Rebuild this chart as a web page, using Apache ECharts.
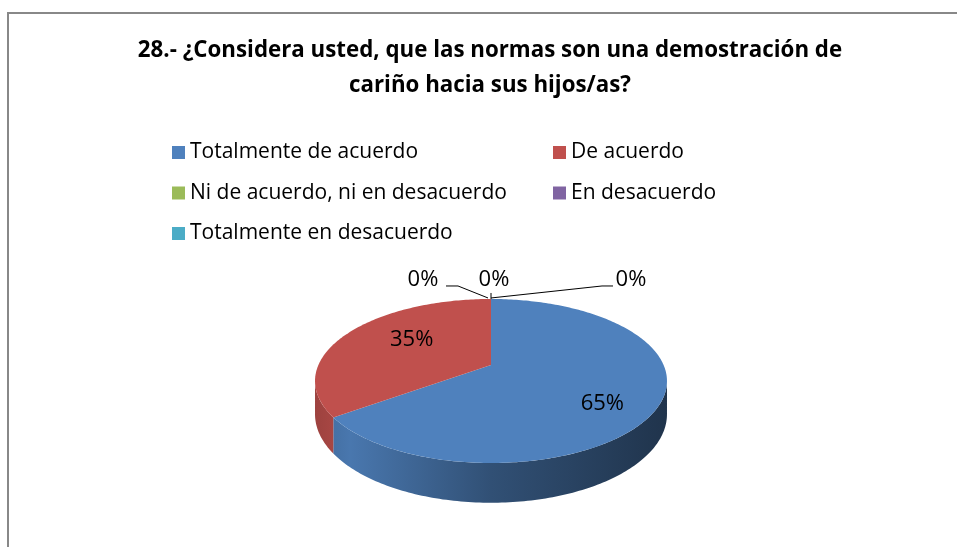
<!DOCTYPE html>
<html>
<head>
<meta charset="utf-8">
<script src="https://cdn.jsdelivr.net/npm/echarts@6/dist/echarts.min.js"></script>
<style>
    html, body { margin: 0; padding: 0; background: #fff; }
    #chart { width: 957px; height: 547px; }
</style>
</head>
<body>
<div id="chart"></div>
<script>
// data
const titleText = "28.- ¿Considera usted, que las normas son una demostración de\ncariño hacia sus hijos/as?";
const categories = [
    "Totalmente de acuerdo",
    "De acuerdo",
    "Ni de acuerdo, ni en desacuerdo",
    "En desacuerdo",
    "Totalmente en desacuerdo",
];
const values = [65, 35, 0, 0, 0];
const colors = ["#4F81BD", "#C0504D", "#9BBB59", "#8064A2", "#4BACC6"];

const FONT = "'Open Sans', Carlito, sans-serif";

// perspective pie geometry (top face centre, radii, tilt, wall height)
const geo = { x0: 491, y0: 365, a: 172.6, b: 78.9, k: 0.195, h: 32 };
// where the 0% labels go, relative to where their slice sits on the rim
const zeroLabels = [
    { text: [-68, -19], line: [[-3, -1], [-33, -13], [-45, -13]] },
    { text: [3, -19], line: [[0, 0], [0, -6]] },
    { text: [140, -19], line: [[0, -1], [111, -13], [122, -13]] },
];

const total = values.reduce((s, v) => s + v, 0);

function proj(phi, r) {
    const u = r * Math.sin(phi);
    const v = -r * Math.cos(phi);
    const d = 1 - geo.k * v;
    return [geo.x0 + (geo.a * u) / d, geo.y0 + (geo.b * v) / d];
}
function wallH(phi) {
    return geo.h / (1 + geo.k * Math.cos(phi));
}
function shade(hex, f) {
    const n = parseInt(hex.slice(1), 16);
    const c = [(n >> 16) & 255, (n >> 8) & 255, n & 255].map((x) => Math.round(x * f));
    return "rgb(" + c.join(",") + ")";
}
function arc(s, e) {
    const pts = [];
    const n = Math.max(2, Math.ceil((e - s) / (Math.PI / 180)));
    for (let j = 0; j <= n; j++) {
        const phi = s + ((e - s) * j) / n;
        pts.push(proj(phi, 1));
    }
    return pts;
}

function renderSlice(params, api) {
    const i = params.seriesIndex;
    const val = api.value(0);
    let before = 0;
    for (let j = 0; j < i; j++) before += values[j];
    const s = (before / total) * Math.PI * 2;
    const e = s + (val / total) * Math.PI * 2;
    const color = colors[i];
    const children = [];

    if (val > 0) {
        // outer wall, only the part facing us
        const vis0 = Math.acos(-geo.k);
        const vis1 = Math.PI * 2 - vis0;
        const a = Math.max(s, vis0);
        const b = Math.min(e, vis1);
        if (b > a) {
            const top = arc(a, b);
            const n = top.length - 1;
            const bottom = top.map((p, j) => [p[0], p[1] + wallH(a + ((b - a) * j) / n)]).reverse();
            const left = geo.x0 - geo.a / Math.sqrt(1 - geo.k * geo.k);
            const right = geo.x0 + geo.a / Math.sqrt(1 - geo.k * geo.k);
            children.push({
                type: "polygon",
                z2: 1,
                shape: { points: top.concat(bottom) },
                style: {
                    fill: new echarts.graphic.LinearGradient(left, 0, right, 0, [
                        { offset: 0, color: shade(color, 0.82) },
                        { offset: 0.1, color: shade(color, 0.92) },
                        { offset: 0.5, color: shade(color, 0.62) },
                        { offset: 1, color: shade(color, 0.4) },
                    ], true),
                },
            });
        }
        // top face
        children.push({
            type: "polygon",
            z2: 2,
            shape: { points: [proj(0, 0)].concat(arc(s, e)) },
            style: { fill: color },
        });
        const mid = (s + e) / 2;
        children.push({
            type: "text",
            z2: 10,
            style: {
                text: Math.round((val / total) * 100) + "%",
                x: geo.x0 + 16 + 0.62 * geo.a * Math.sin(mid),
                y: geo.y0 + 6.5 - 0.9 * geo.b * Math.cos(mid),
                align: "center",
                verticalAlign: "middle",
                fontFamily: FONT,
                fontSize: 22,
                fill: "#000",
            },
        });
    } else {
        let z = 0;
        for (let j = 0; j < i; j++) if (values[j] === 0) z++;
        const lay = zeroLabels[z % zeroLabels.length];
        const anchor = proj(s, 1);
        children.push({
            type: "polyline",
            z2: 9,
            shape: { points: lay.line.map((p) => [anchor[0] + p[0], anchor[1] + p[1]]) },
            style: { stroke: "#000", lineWidth: 1, fill: null },
        });
        children.push({
            type: "text",
            z2: 10,
            style: {
                text: "0%",
                x: anchor[0] + lay.text[0],
                y: anchor[1] + lay.text[1],
                align: "center",
                verticalAlign: "middle",
                fontFamily: FONT,
                fontSize: 22,
                fill: "#000",
            },
        });
    }
    return { type: "group", children: children };
}

const legendText = { fontFamily: FONT, fontSize: 21, lineHeight: 20, color: "#000" };

const chart = echarts.init(document.getElementById("chart"));
chart.setOption({
    animation: false,
    backgroundColor: "#fff",
    title: {
        text: titleText,
        left: 490,
        textAlign: "center",
        top: 33,
        padding: 0,
        textStyle: {
            fontFamily: FONT,
            fontWeight: "bold",
            fontSize: 22.3,
            lineHeight: 35,
            color: "#000",
        },
    },
    legend: [
        {
            data: [categories[0], categories[2], categories[4]],
            orient: "vertical",
            left: 172,
            top: 142,
            padding: 0,
            itemGap: 19.5,
            itemWidth: 13,
            itemHeight: 13,
            icon: "rect",
            textStyle: legendText,
        },
        {
            data: [categories[1], categories[3]],
            orient: "vertical",
            left: 553,
            top: 142,
            padding: 0,
            itemGap: 19.5,
            itemWidth: 13,
            itemHeight: 13,
            icon: "rect",
            textStyle: legendText,
        },
    ],
    graphic: [
        {
            type: "polyline",
            silent: true,
            shape: { points: [[8, 547], [8, 13], [957, 13]] },
            style: { stroke: "#888", lineWidth: 2, fill: null },
        },
    ],
    series: categories.map((name, i) => ({
        type: "custom",
        name: name,
        coordinateSystem: "none",
        itemStyle: { color: colors[i] },
        renderItem: renderSlice,
        data: [values[i]],
    })),
});
</script>
</body>
</html>
